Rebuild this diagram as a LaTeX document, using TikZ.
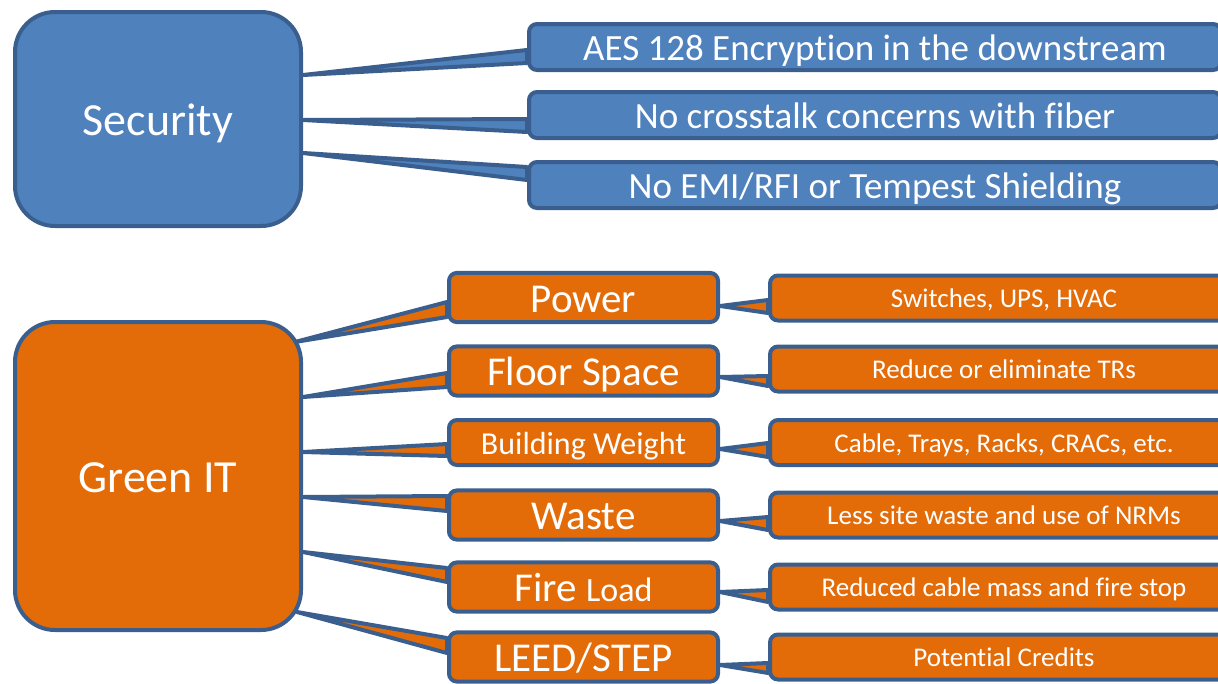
\documentclass[tikz,border=0pt]{standalone}
\usepackage{fontspec}
\setmainfont{Carlito}[Ligatures=NoCommon]
\usetikzlibrary{backgrounds,calc}
\definecolor{bluef}{HTML}{4F81BD}
\definecolor{bord}{HTML}{3A5F8E}
\definecolor{orf}{HTML}{E36C09}
\begin{document}
\begin{tikzpicture}[x=1pt,y=-1pt,
  box/.style={draw=bord, line width=4pt, text=white, inner sep=0pt, align=center},
  bigbox/.style={box, rounded corners=40pt, minimum width=286pt, font=\fontsize{46}{50}\selectfont, text height=44pt, text depth=11pt},
  secitem/.style={box, fill=bluef, rounded corners=8pt, minimum width=692pt, minimum height=46pt, font=\fontsize{37}{40}\selectfont, text height=35.5pt, text depth=8.9pt},
  miditem/.style={box, fill=orf, rounded corners=8pt, minimum width=269pt, minimum height=45pt, font=\fontsize{41}{44}\selectfont, text height=39.4pt, text depth=9.8pt},
  rightitem/.style={box, fill=orf, rounded corners=8pt, minimum width=468pt, minimum height=45pt, font=\fontsize{27}{30}\selectfont, text height=26pt, text depth=6.5pt},
  wedge/.style={draw=bord, line width=4pt, line join=round}
]
\useasboundingbox (0,0) rectangle (1218,683);
\clip (0,0) rectangle (1218,683);

% main boxes
\node[bigbox, fill=bluef, minimum height=214pt] (sec) at (158,119) {Security};
\node[bigbox, fill=orf, minimum height=308pt] (gr) at (158,476) {Green IT};

% security items
\node[secitem] (s1) at (875,47) {AES 128 Encryption in the downstream};
\node[secitem] (s2) at (875,115) {No crosstalk concerns with fiber};
\node[secitem] (s3) at (875,185) {No EMI/RFI or Tempest Shielding};

% middle items
\node[miditem] (m1) at (583.5,297.5) {Power};
\node[miditem] (m2) at (583.5,371) {Floor Space};
\node[miditem, font=\fontsize{32}{35}\selectfont, text height=30.7pt, text depth=7.7pt] (m3) at (583.5,442.5) {Building Weight};
\node[miditem] (m4) at (583.5,515) {Waste};
\node[miditem] (m5) at (583.5,587) {Fire {\fontsize{34}{36}\selectfont Load}};
\node[miditem] (m6) at (583.5,657) {LEED/STEP};

% right items
\node[rightitem] (r1) at (1004,298) {Switches, UPS, HVAC};
\node[rightitem] (r2) at (1004,369) {Reduce or eliminate TRs};
\node[rightitem] (r3) at (1004,442.5) {Cable, Trays, Racks, CRACs, etc.};
\node[rightitem] (r4) at (1004,515) {Less site waste and use of NRMs};
\node[rightitem] (r5) at (1004,587) {Reduced cable mass and fire stop};
\node[rightitem] (r6) at (1004,657) {Potential Credits};

\begin{scope}[on background layer]
  % security connectors
  \filldraw[wedge, fill=bluef] (sec.east |- 0,75) -- (s1.west |- 0,50) -- (s1.west |- 0,63) -- cycle;
  \filldraw[wedge, fill=bluef] (sec.east |- 0,120) -- (s2.west |- 0,119) -- (s2.west |- 0,132) -- cycle;
  \filldraw[wedge, fill=bluef] (sec.east |- 0,153) -- (s3.west |- 0,167) -- (s3.west |- 0,180) -- cycle;
  % green IT connectors
  \filldraw[wedge, fill=orf] ($(gr.east |- 0,342)+(-8,0)$) -- (m1.west |- 0,302) -- (m1.west |- 0,317) -- cycle;
  \filldraw[wedge, fill=orf] (gr.east |- 0,397) -- (m2.west |- 0,373) -- (m2.west |- 0,387) -- cycle;
  \filldraw[wedge, fill=orf] (gr.east |- 0,452) -- (m3.west |- 0,444) -- (m3.west |- 0,456) -- cycle;
  \filldraw[wedge, fill=orf] (gr.east |- 0,497) -- (m4.west |- 0,496) -- (m4.west |- 0,511) -- cycle;
  \filldraw[wedge, fill=orf] (gr.east |- 0,552) -- (m5.west |- 0,568) -- (m5.west |- 0,582) -- cycle;
  \filldraw[wedge, fill=orf] ($(gr.east |- 0,612)+(-6,0)$) -- (m6.west |- 0,638) -- (m6.west |- 0,653) -- cycle;
  % middle to right connectors
  \filldraw[wedge, fill=orf] (m1.east |- 0,306) -- (r1.west |- 0,300) -- (r1.west |- 0,313) -- cycle;
  \filldraw[wedge, fill=orf] (m2.east |- 0,377) -- (r2.west |- 0,376) -- (r2.west |- 0,386) -- cycle;
  \filldraw[wedge, fill=orf] (m3.east |- 0,449) -- (r3.west |- 0,443) -- (r3.west |- 0,457) -- cycle;
  \filldraw[wedge, fill=orf] (m4.east |- 0,521) -- (r4.west |- 0,517) -- (r4.west |- 0,530) -- cycle;
  \filldraw[wedge, fill=orf] (m5.east |- 0,592) -- (r5.west |- 0,590) -- (r5.west |- 0,602) -- cycle;
  \filldraw[wedge, fill=orf] (m6.east |- 0,665) -- (r6.west |- 0,663) -- (r6.west |- 0,673) -- cycle;
\end{scope}
\end{tikzpicture}
\end{document}
